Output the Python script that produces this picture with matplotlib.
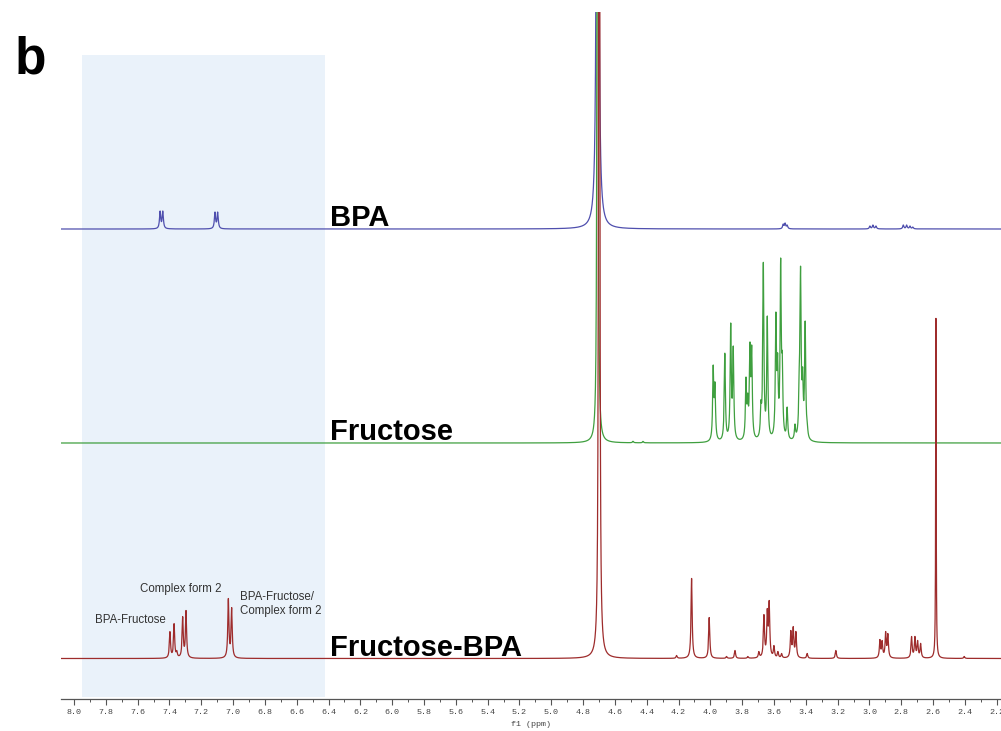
import numpy as np
import matplotlib
matplotlib.use("Agg")
import matplotlib.pyplot as plt
from matplotlib.ticker import MultipleLocator, FormatStrFormatter

# peak lists: ppm, height (px above each baseline)
bpa_ppm = [7.459, 7.442, 7.114, 7.097, 3.542, 3.530, 3.517,
           2.997, 2.978, 2.959, 2.787, 2.766, 2.745, 2.727]
bpa_h = [18, 18, 17, 17, 5, 6, 4, 3, 4, 3, 4, 4, 3, 2]

fru_ppm = [3.982, 3.971, 3.909, 3.872, 3.856, 3.776, 3.765, 3.751, 3.740,
           3.682, 3.667, 3.642, 3.588, 3.577, 3.558, 3.548, 3.517, 3.468,
           3.441, 3.433, 3.420, 3.404, 3.391, 4.486, 4.423]
fru_h = [78, 61, 90, 120, 97, 66, 50, 101, 98, 43, 181, 127, 131, 90,
         185, 91, 36, 19, 80, 177, 76, 122, 21, 1.5, 1.5]

mix_ppm = [7.397, 7.371, 7.354, 7.317, 7.296, 7.030, 7.009,
           4.212, 4.118, 4.007, 3.898, 3.845, 3.764, 3.695, 3.663, 3.642,
           3.630, 3.600, 3.575, 3.552, 3.494, 3.479, 3.462, 3.391, 3.211,
           2.934, 2.920, 2.898, 2.884, 2.735, 2.714, 2.697, 2.678, 2.404]
mix_h = [27, 35, 8, 42, 48, 60, 51,
         3, 80, 41, 2, 8, 2, 7, 44, 50,
         58, 13, 7, 5, 28, 32, 27, 5, 8,
         19, 18, 27, 25, 22, 22, 18, 15, 2]

# solvent / reference singlets: ppm, height, half width (ppm)
water_ppm = [4.709, 4.709, 4.699]
water_h = [4000, 4000, 4000]
water_w = [0.0027, 0.0016, 0.0019]
dmso_ppm = 2.582
dmso_h = 340
dmso_w = 0.0019

names = ["BPA", "Fructose", "Fructose-BPA"]
baselines = [470, 256, 40.5]
colors = ["#4f4fae", "#3f9f3f", "#9e2c2c"]

notes = ["BPA-Fructose", "Complex form 2", "BPA-Fructose/\nComplex form 2"]
note_ppm = [7.868, 7.585, 6.957]
note_y = [79, 110, 95]

ppm = np.arange(2.15, 8.1, 0.0004)


def lorentz(pos, hts, w):
    y = np.zeros_like(ppm)
    for p, h in zip(pos, hts):
        y += h * w**2 / ((ppm - p)**2 + w**2)
    return y


def multiplet(pos, target, w):
    # pick line amplitudes so the summed curve peaks at the read heights
    p = np.array(pos)
    A = w**2 / ((p[:, None] - p[None, :])**2 + w**2)
    amp = np.clip(np.linalg.solve(A, np.array(target, float)), 0, None)
    return lorentz(pos, amp, w)


spectra = [
    multiplet(bpa_ppm, bpa_h, 0.0045) + lorentz([water_ppm[0]], [water_h[0]], water_w[0]),
    multiplet(fru_ppm, fru_h, 0.0042) + lorentz([water_ppm[1]], [water_h[1]], water_w[1]),
    multiplet(mix_ppm, mix_h, 0.0042) + lorentz([water_ppm[2]], [water_h[2]], water_w[2])
    + lorentz([dmso_ppm], [dmso_h], dmso_w),
]

fig = plt.figure(figsize=(10.01, 7.31), dpi=100)
ax = fig.add_axes([61 / 1001, 32 / 731, 940 / 1001, 687 / 731])

ax.axvspan(7.950, 6.422, ymin=0.003, ymax=0.937, color="#eaf2fa", lw=0, zorder=0)

for spec, base, c in zip(spectra, baselines, colors):
    ax.plot(ppm, spec + base, color=c, lw=0.9, zorder=2)

for name, base in zip(names, baselines):
    ax.text(6.391, base + 3, name, fontsize=21, fontweight="bold",
            family="Liberation Sans", ha="left", va="baseline", zorder=3)

for t, x, y in zip(notes, note_ppm, note_y):
    ax.text(x, y, t, fontsize=8.3, family="Liberation Sans", color="#333333",
            ha="left", va="center", linespacing=1.25, zorder=3)

ax.set_xlim(8.082, 2.173)
ax.set_ylim(0, 687)
for s in ["left", "right", "top"]:
    ax.spines[s].set_visible(False)
ax.spines["bottom"].set_color("#555555")
ax.spines["bottom"].set_linewidth(0.9)
ax.set_yticks([])
ax.xaxis.set_major_locator(MultipleLocator(0.2))
ax.xaxis.set_minor_locator(MultipleLocator(0.1))
ax.xaxis.set_major_formatter(FormatStrFormatter("%.1f"))
ax.tick_params(axis="x", which="major", length=4.5, width=0.8, color="#555555",
               labelsize=6, labelcolor="#444444", pad=3)
ax.tick_params(axis="x", which="minor", length=2, width=0.7, color="#555555")
for lab in ax.get_xticklabels():
    lab.set_family("Liberation Mono")
ax.set_xlabel("f1 (ppm)", fontsize=6, family="Liberation Mono", color="#444444",
              labelpad=3)

fig.text(15 / 1001, 1 - 73 / 731, "b", fontsize=37, fontweight="bold",
         family="Liberation Sans", ha="left", va="baseline")

fig.savefig("out.png", dpi=100)
